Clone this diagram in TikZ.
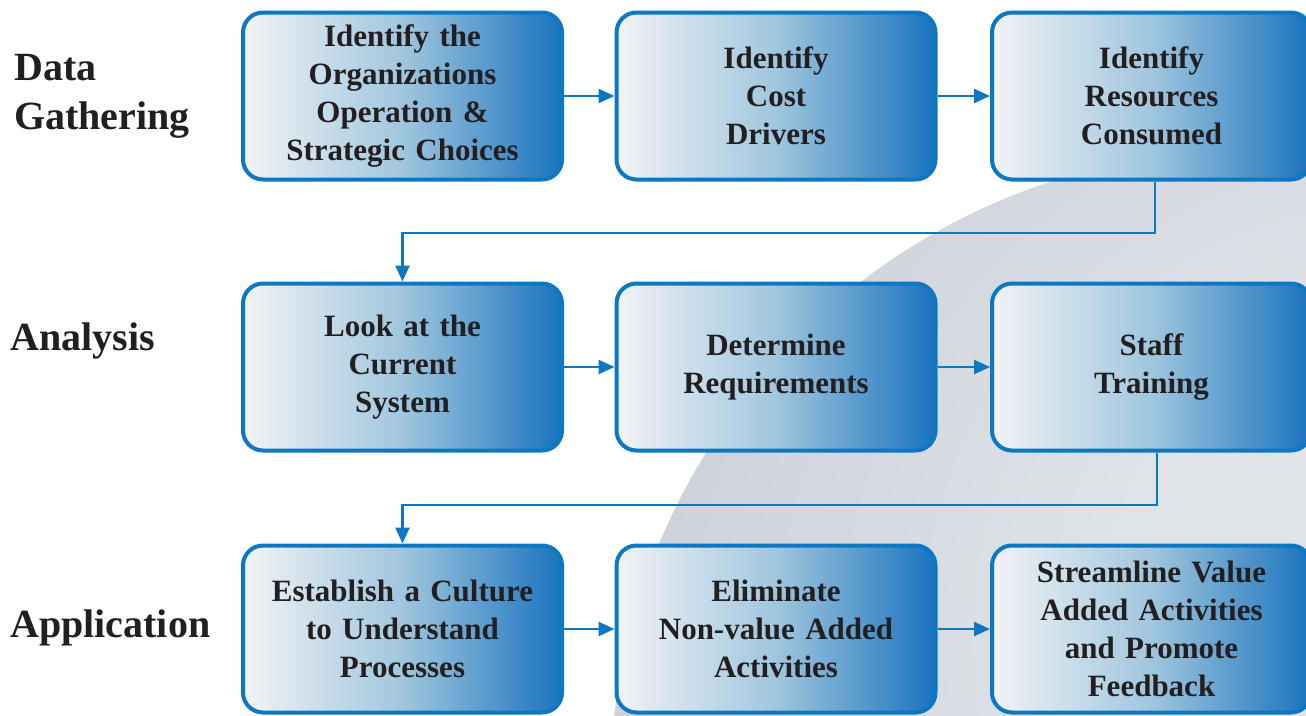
\documentclass[tikz,border=0pt]{standalone}
\usepackage{fontspec}
\setmainfont{Liberation Serif}
\usetikzlibrary{arrows.meta}
\definecolor{boxblue}{RGB}{12,120,196}
\definecolor{lightend}{RGB}{242,243,246}
\definecolor{midblue}{RGB}{160,198,222}
\definecolor{darkend}{RGB}{25,115,190}
\definecolor{txt}{RGB}{35,31,32}
\definecolor{globein}{RGB}{224,227,232}
\definecolor{globemid}{RGB}{204,208,216}
\definecolor{globeout}{RGB}{188,192,202}
\pgfdeclareradialshading{globeshade}{\pgfpoint{8bp}{8bp}}{color(0bp)=(globein); color(12bp)=(globein); color(30bp)=(globemid); color(48bp)=(globeout); color(70bp)=(globeout)}
\tikzset{
  stepbox/.style={draw=boxblue, line width=4pt, rounded corners=20pt,
    minimum width=319pt, minimum height=167pt, inner sep=0pt,
    left color=lightend, right color=darkend, middle color=midblue,
    text width=300pt, align=center, text=txt,
    font=\fontsize{31}{38}\selectfont\bfseries},
  phase/.style={anchor=west, align=left, text=txt, inner sep=0pt,
    font=\fontsize{40}{49}\selectfont\bfseries},
  flow/.style={draw=boxblue, line width=2.5pt, -{Triangle[length=16pt,width=14pt]}}
}
\begin{document}
\begin{tikzpicture}[x=1pt,y=-1pt]
\clip (0,0) rectangle (1306,715);
\fill[white] (0,0) rectangle (1306,715);
% globe
\shade[shading=globeshade] (1250,790) circle (640);
% phase labels
\node[phase] (p1) at (14,96) {Data\\Gathering};
\node[phase] (p2) at (10,341) {Analysis};
\node[phase] (p3) at (10,628) {Application};
% boxes
\node[stepbox] (b1) at (402.5,96) {Identify the\\Organizations\\Operation \&\\Strategic Choices};
\node[stepbox] (b2) at (776,96) {Identify\\Cost\\Drivers};
\node[stepbox] (b3) at (1151.5,96) {Identify\\Resources\\Consumed};
\node[stepbox] (b4) at (402.5,367) {Look at the\\Current\\System};
\node[stepbox] (b5) at (776,367) {Determine\\Requirements};
\node[stepbox] (b6) at (1151.5,367) {Staff\\Training};
\node[stepbox] (b7) at (402.5,629) {Establish a Culture\\to Understand\\Processes};
\node[stepbox] (b8) at (776,629) {Eliminate\\Non-value Added\\Activities};
\node[stepbox] (b9) at (1151.5,629) {Streamline Value\\Added Activities\\and Promote\\Feedback};
% connectors
\draw[flow] (b1.east) -- (b2.west);
\draw[flow] (b2.east) -- (b3.west);
\draw[flow] (b4.east) -- (b5.west);
\draw[flow] (b5.east) -- (b6.west);
\draw[flow] (b7.east) -- (b8.west);
\draw[flow] (b8.east) -- (b9.west);
\coordinate (t1) at (1155,233);
\coordinate (t2) at (1157,505);
\draw[flow] (b3.south -| t1) -- (t1) -| (b4.north);
\draw[flow] (b6.south -| t2) -- (t2) -| (b7.north);
\end{tikzpicture}
\end{document}
